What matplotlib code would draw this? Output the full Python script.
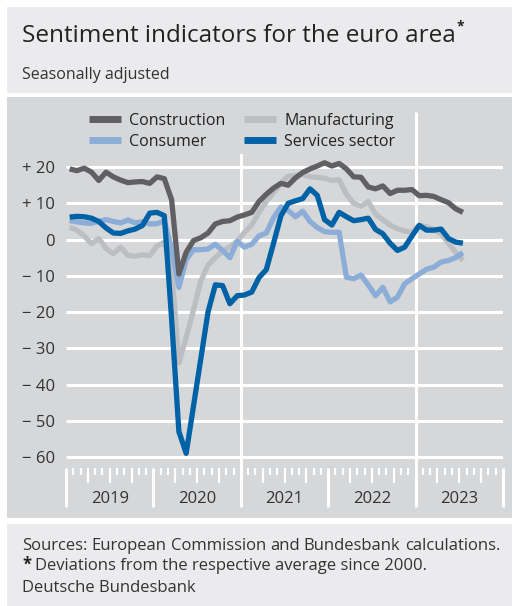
import matplotlib.pyplot as plt
from matplotlib.patches import Rectangle
import numpy as np

plt.rcParams['font.family'] = ['Open Sans', 'DejaVu Sans']

# monthly values, Jan 2019 - Jul 2023 (deviation from average since 2000)
construction = [19.5, 19.0, 19.7, 18.6, 16.3, 18.6, 17.3, 16.4, 15.7, 15.9, 16.0, 15.5,
                17.3, 16.8, 11.0, -9.5, -3.5, -0.3, 0.5, 1.8, 4.3, 5.0, 5.2, 6.2,
                6.8, 7.5, 10.5, 12.5, 14.2, 15.5, 15.0, 17.0, 18.5, 19.5, 20.3, 21.2,
                20.3, 21.0, 19.5, 17.3, 17.2, 14.5, 14.0, 14.8, 12.7, 13.6, 13.6, 13.8,
                12.1, 12.2, 11.9, 11.0, 10.2, 8.5, 7.5]
manufacturing = [3.4, 2.6, 1.0, -1.2, 0.3, -2.5, -3.9, -2.1, -4.4, -4.6, -4.2, -4.4,
                 -1.7, -0.8, -8.0, -34.0, -27.0, -19.5, -11.5, -7.0, -5.0, -3.2, -2.0, -0.5,
                 2.0, 4.0, 7.5, 10.5, 13.0, 15.5, 17.5, 17.7, 18.0, 17.3, 17.2, 16.9,
                 16.3, 16.5, 12.5, 10.0, 9.2, 10.5, 7.0, 5.5, 4.0, 3.0, 2.4, 2.0,
                 4.0, 3.5, 2.8, 1.6, -1.0, -3.5, -5.8]
consumer = [5.2, 4.9, 4.6, 4.5, 5.0, 5.5, 5.0, 4.6, 5.4, 4.6, 4.9, 4.3,
            4.4, 5.2, -2.5, -13.2, -5.5, -2.8, -2.8, -2.6, -1.3, -3.0, -5.0, -0.5,
            -2.1, -1.3, 1.0, 1.8, 6.0, 9.0, 8.0, 6.3, 7.8, 5.0, 3.3, 2.2,
            2.0, 2.0, -10.4, -10.8, -9.8, -12.5, -15.5, -13.2, -17.2, -15.9, -12.2, -10.8,
            -9.5, -8.2, -7.6, -6.2, -5.8, -5.0, -3.6]
services = [6.2, 6.4, 6.3, 5.9, 5.0, 3.2, 1.8, 1.7, 2.4, 2.9, 3.9, 7.3,
            7.5, 6.6, -22.0, -53.0, -59.0, -46.0, -33.0, -20.0, -12.5, -12.7, -17.7, -15.5,
            -15.3, -14.5, -10.5, -8.3, -1.0, 6.5, 10.0, 10.7, 11.3, 14.0, 12.2, 5.5,
            4.0, 7.5, 6.3, 5.2, 5.5, 5.9, 2.8, 1.6, -1.0, -3.0, -2.1, 1.0,
            3.9, 2.6, 2.6, 2.9, 0.3, -0.7, -1.0]

years = ['2019', '2020', '2021', '2022', '2023']
yticks = [20, 10, 0, -10, -20, -30, -40, -50, -60]
ylabels = ['+ 20', '+ 10', '0', '\u2212 10', '\u2212 20', '\u2212 30', '\u2212 40', '\u2212 50', '\u2212 60']

panel = '#d6d7d9'
light = '#ebebed'
txt = '#222222'

W, H = 512, 606
fig = plt.figure(figsize=(W / 100, H / 100), dpi=100)

# background boxes
for y0, h, c in [(1 - 93 / H, 86 / H, light), (1 - 518 / H, 421 / H, panel), (0, 1 - 524 / H, light)]:
    fig.patches.append(Rectangle((7 / W, y0), 1, h, transform=fig.transFigure,
                                 facecolor=c, edgecolor='none', zorder=-10))

ax = fig.add_axes([66 / W, 1 - 507 / H, 437 / W, 395 / H])
ax.set_facecolor('none')
ymin, ymax = -73.8, 35.2
ax.set_xlim(0, 60)
ax.set_ylim(ymin, ymax)
for s in ax.spines.values():
    s.set_visible(False)

# grid
ax.hlines(yticks, 0, 60, color='white', lw=2.2, zorder=1)
ax.vlines([24, 48], ymin, ymax, color='white', lw=2.2, zorder=1)

# month / quarter / year ticks below the chart
for m in range(61):
    if m % 12 == 0:
        ax.vlines(m, ymin, -63, color='white', lw=2.2, clip_on=False)
    elif m % 3 == 0:
        ax.vlines(m, -67.2, -63, color='white', lw=1.6, clip_on=False)
    else:
        ax.vlines(m, -65.0, -63, color='white', lw=1.6, clip_on=False)
for k, yr in enumerate(years):
    ax.text(12 * k + 6, -71.6, yr, ha='center', va='center', fontsize=12, color='#333333')

x = np.arange(len(construction)) + 0.5
l_man, = ax.plot(x, manufacturing, color='#bdbec1', lw=3.8, zorder=2, solid_capstyle='butt')
l_con, = ax.plot(x, consumer, color='#8badd7', lw=3.8, zorder=3, solid_capstyle='butt')
l_cst, = ax.plot(x, construction, color='#606062', lw=3.8, zorder=4, solid_capstyle='butt')
l_srv, = ax.plot(x, services, color='#0062a6', lw=3.8, zorder=5, solid_capstyle='butt')

ax.set_xticks([])
ax.set_yticks(yticks)
ax.set_yticklabels(ylabels)
ax.tick_params(axis='y', length=0, pad=8, labelsize=12, labelcolor='#333333')

leg = ax.legend([l_cst, l_con, l_man, l_srv],
                ['Construction', 'Consumer', 'Manufacturing', 'Services sector'],
                ncol=2, loc='upper left', bbox_to_anchor=(76 / W, 1 - 100 / H),
                bbox_transform=fig.transFigure, fontsize=11.5, handlelength=2.0,
                handletextpad=0.5, columnspacing=1.2, labelspacing=0.3,
                borderpad=0.3, frameon=True, fancybox=False, framealpha=1)
leg.get_frame().set_facecolor(panel)
leg.get_frame().set_edgecolor('none')
for t in leg.get_texts():
    t.set_color(txt)
for h in leg.legend_handles:
    h.set_linewidth(5)

# titles
title = fig.text(22 / W, 1 - 42 / H, 'Sentiment indicators for the euro area',
                 fontsize=17.5, color=txt, va='baseline')
fig.text(22 / W, 1 - 79 / H, 'Seasonally adjusted', fontsize=11.5, color='#333333', va='baseline')

fig.canvas.draw()
r = fig.canvas.get_renderer()
bb = title.get_window_extent(r)
fig.text(bb.x1 / W + 1 / W, 1 - 30 / H, '*', fontsize=10, color=txt, va='baseline', fontweight='bold')

# footer, first line justified
words = 'Sources: European Commission and Bundesbank calculations.'.split()
parts = [fig.text(0, 1 - 550 / H, w, fontsize=12, color='#333333', va='baseline') for w in words]
widths = [p.get_window_extent(r).width for p in parts]
gap = (500 - 22 - sum(widths)) / (len(words) - 1)
xpos = 22
for p, w in zip(parts, widths):
    p.set_x(xpos / W)
    xpos += w + gap

star = fig.text(22 / W, 1 - 570 / H, '*', fontsize=12, fontweight='bold', color='#222222', va='baseline')
sb = star.get_window_extent(r)
fig.text(sb.x1 / W + 4 / W, 1 - 570 / H, 'Deviations from the respective average since 2000.',
         fontsize=12, color='#333333', va='baseline')
fig.text(22 / W, 1 - 592 / H, 'Deutsche Bundesbank', fontsize=12, color='#333333', va='baseline')

fig.savefig('out.png', dpi=100)
